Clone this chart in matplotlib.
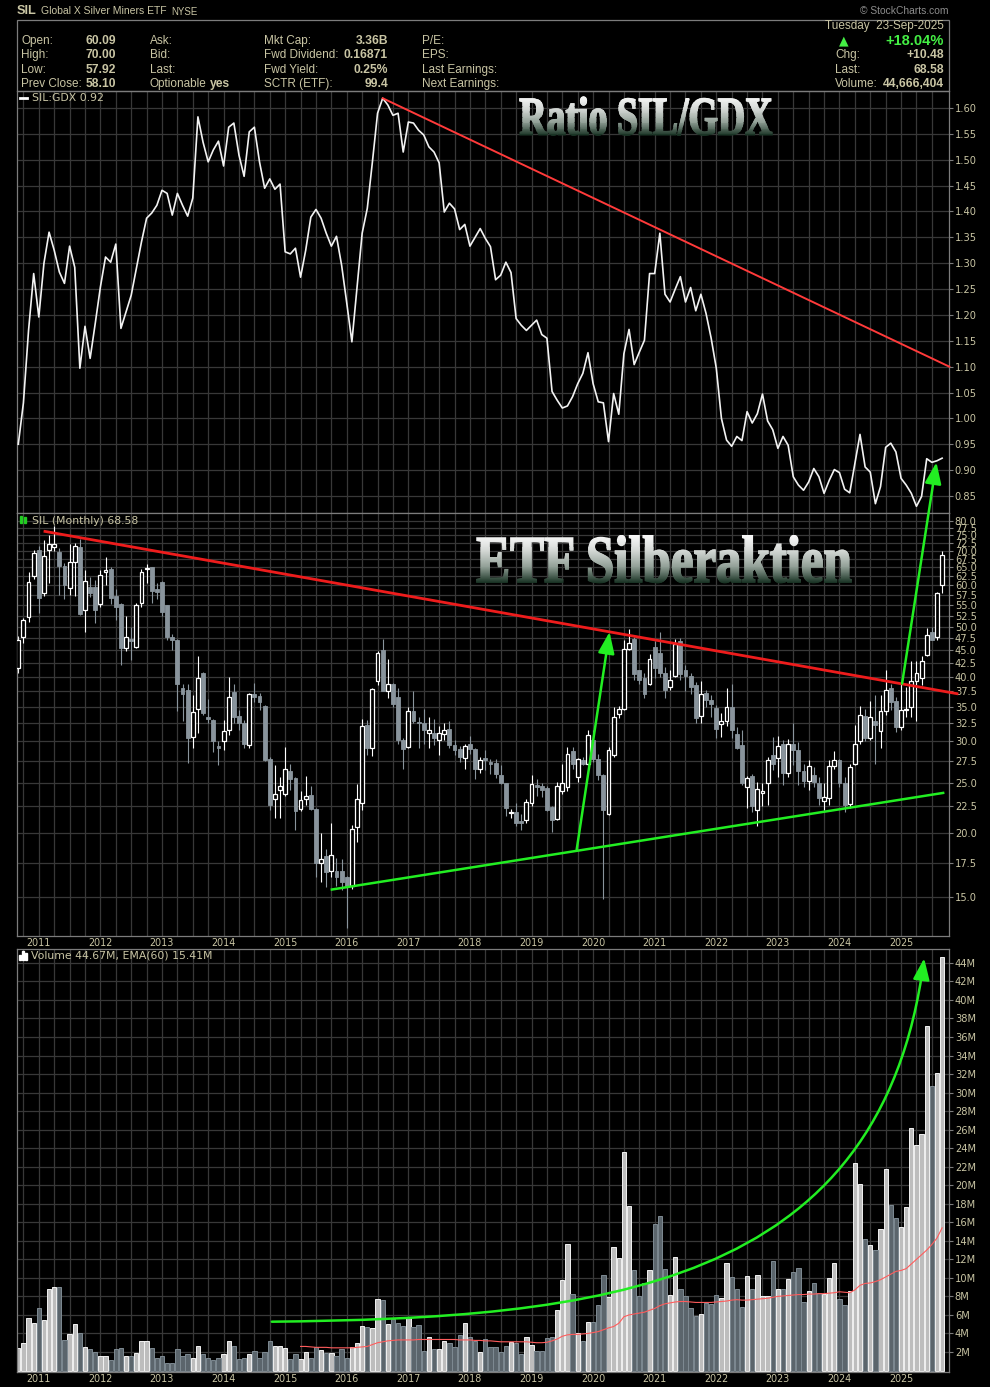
import numpy as np
import pandas as pd
import matplotlib
matplotlib.use('Agg')
import matplotlib.pyplot as plt
from matplotlib.patches import PathPatch, Rectangle, FancyArrowPatch, ConnectionPatch, ArrowStyle
from matplotlib.path import Path
from matplotlib.textpath import TextPath
from matplotlib.font_manager import FontProperties
from matplotlib.transforms import Affine2D
from matplotlib.colors import LinearSegmentedColormap
from matplotlib.ticker import FixedLocator, NullLocator, FuncFormatter

# ---- data (monthly, Sep 2010 .. Sep 2025) ----
months = pd.date_range('2010-09-01', periods=181, freq='MS')

sil_open = [41.5, 47.8, 52.1, 62.7, 70.4, 58.0, 70.2, 71.1, 69.6, 65.4,
            59.4, 66.7, 71.3, 53.8, 59.5, 59.5, 55.3, 63.7, 64.5, 57.3,
            55.2, 45.4, 47.3, 45.7, 55.6, 64.5, 65.0, 59.1, 61.0, 55.1,
            47.8, 47.1, 38.0, 37.7, 30.6, 34.6, 40.6, 33.4, 33.0, 29.4,
            30.0, 31.5, 37.4, 33.6, 32.5, 29.5, 37.1, 36.8, 35.2, 27.8,
            23.2, 24.2, 23.8, 26.3, 25.5, 22.2, 23.2, 23.7, 22.2, 17.5,
            18.0, 16.9, 16.9, 16.9, 16.4, 15.8, 20.5, 22.8, 32.3, 29.2,
            39.3, 45.1, 37.6, 38.8, 36.5, 30.2, 29.3, 34.3, 32.7, 32.5,
            31.1, 31.1, 30.2, 31.0, 31.7, 29.6, 29.0, 27.9, 29.7, 29.0,
            26.6, 27.9, 27.4, 27.3, 25.8, 24.9, 21.8, 21.9, 21.1, 21.2,
            22.8, 24.7, 24.6, 24.4, 22.4, 21.3, 24.1, 24.5, 28.8, 25.6,
            27.6, 27.1, 30.2, 27.8, 25.8, 21.7, 28.3, 33.9, 34.6, 45.2,
            47.4, 41.2, 39.7, 38.8, 45.6, 44.4, 40.6, 38.3, 40.2, 46.8,
            41.2, 40.2, 38.6, 33.6, 37.2, 36.1, 34.8, 32.4, 32.8, 34.9,
            31.0, 29.5, 24.5, 25.7, 22.1, 23.9, 24.9, 28.3, 27.9, 29.7,
            26.1, 29.7, 28.9, 26.3, 25.2, 25.9, 24.9, 23.0, 23.3, 26.9,
            27.6, 24.9, 22.7, 27.2, 30.1, 33.6, 30.5, 32.8, 31.4, 34.4,
            38.1, 35.9, 32.0, 34.5, 35.0, 39.2, 39.7, 44.0, 48.9, 47.8,
            60.09]
sil_high = [47.9, 51.9, 63.8, 70.2, 71.5, 73.4, 75.1, 78.2, 70.9, 66.2,
            72.3, 72.6, 73.9, 64.3, 62.4, 61.5, 64.3, 68.0, 65.2, 59.0,
            55.5, 52.4, 49.8, 55.5, 64.7, 66.0, 65.2, 60.6, 61.2, 55.1,
            48.4, 47.2, 38.8, 38.8, 36.9, 43.9, 40.9, 36.3, 33.2, 30.1,
            33.0, 40.0, 38.8, 34.5, 33.0, 37.2, 38.9, 37.2, 35.3, 28.0,
            27.0, 25.6, 29.3, 27.2, 25.6, 24.1, 25.7, 24.6, 22.3, 20.0,
            18.6, 20.9, 17.9, 17.8, 16.5, 20.7, 24.8, 33.2, 33.0, 38.0,
            44.8, 47.4, 43.3, 38.9, 38.0, 30.5, 35.0, 37.5, 33.5, 34.7,
            33.4, 33.1, 32.2, 32.5, 32.8, 30.2, 29.4, 29.7, 30.7, 29.2,
            28.0, 28.9, 27.8, 27.8, 27.0, 25.0, 22.2, 22.8, 21.7, 23.2,
            25.8, 25.4, 25.0, 24.6, 22.5, 25.1, 27.2, 29.3, 29.3, 27.9,
            28.0, 31.5, 31.6, 28.4, 26.0, 29.3, 35.0, 35.1, 47.1, 49.4,
            47.8, 41.3, 40.6, 44.3, 46.8, 48.8, 41.8, 41.2, 47.4, 47.6,
            42.2, 40.6, 39.1, 39.2, 37.7, 36.9, 35.3, 34.0, 38.0, 38.8,
            32.0, 31.6, 25.7, 26.0, 25.1, 24.9, 28.0, 30.6, 30.8, 30.2,
            30.3, 32.5, 29.9, 27.2, 27.6, 26.8, 25.6, 24.9, 27.6, 28.8,
            27.8, 25.6, 27.2, 32.3, 35.2, 34.7, 35.9, 36.9, 36.9, 41.2,
            38.8, 36.6, 38.8, 38.3, 42.9, 42.9, 43.9, 49.7, 50.0, 58.4,
            70.00]
sil_low = [40.7, 46.5, 51.1, 61.8, 53.0, 57.3, 60.8, 70.0, 57.6, 56.4,
           57.6, 57.3, 52.6, 48.7, 56.9, 50.7, 54.6, 60.2, 55.2, 51.5,
           42.2, 44.9, 43.1, 45.4, 54.6, 60.8, 55.5, 56.4, 52.4, 47.1,
           45.1, 34.4, 32.9, 27.3, 29.1, 31.1, 33.7, 32.5, 28.6, 27.0,
           28.9, 30.9, 32.5, 31.5, 29.2, 29.1, 35.8, 34.5, 27.5, 22.1,
           21.4, 21.4, 23.5, 24.2, 20.2, 22.0, 22.6, 22.1, 16.4, 16.1,
           15.7, 16.4, 15.8, 15.5, 13.1, 15.6, 19.2, 22.1, 28.3, 28.1,
           38.6, 37.5, 36.4, 35.0, 29.7, 26.6, 29.2, 32.5, 29.2, 29.7,
           29.1, 29.5, 28.3, 30.2, 29.2, 28.3, 27.4, 26.5, 28.4, 25.4,
           26.1, 26.4, 26.0, 25.5, 24.8, 21.5, 21.4, 20.6, 20.2, 20.9,
           22.5, 23.5, 23.4, 22.0, 20.1, 21.2, 23.8, 24.1, 26.6, 25.1,
           27.0, 27.0, 27.4, 25.3, 14.9, 21.6, 28.0, 33.3, 34.5, 45.1,
           39.4, 38.8, 36.4, 38.6, 39.7, 40.0, 36.4, 37.7, 40.0, 39.4,
           37.5, 37.1, 32.5, 32.5, 35.0, 33.5, 30.4, 30.6, 32.2, 30.4,
           29.0, 24.7, 22.3, 21.9, 20.6, 22.5, 22.6, 26.4, 25.6, 24.7,
           25.6, 27.0, 24.7, 24.5, 24.2, 24.5, 22.6, 22.1, 22.6, 26.6,
           24.5, 21.9, 22.3, 27.0, 29.7, 30.0, 30.2, 27.2, 29.2, 33.8,
           34.5, 31.3, 31.6, 33.5, 33.5, 32.9, 38.6, 43.8, 47.0, 47.0,
           57.92]
sil_close = [47.1, 51.5, 61.0, 69.2, 56.7, 68.5, 72.0, 72.3, 65.5, 60.2,
             66.7, 71.5, 52.8, 61.2, 58.0, 53.8, 62.8, 64.3, 56.7, 54.6,
             45.4, 47.7, 46.8, 55.0, 63.7, 64.7, 58.6, 58.4, 53.4, 47.8,
             47.0, 38.7, 37.1, 30.4, 34.2, 39.7, 34.0, 33.2, 30.1, 29.2,
             31.4, 36.5, 33.4, 32.6, 29.7, 37.0, 36.5, 35.7, 27.6, 22.6,
             23.8, 24.6, 26.6, 25.4, 22.0, 23.1, 23.5, 22.2, 17.5, 17.8,
             16.8, 18.1, 16.4, 16.1, 15.7, 20.3, 23.2, 32.1, 29.2, 37.8,
             44.4, 37.6, 38.8, 35.5, 30.2, 29.0, 34.4, 32.8, 32.5, 31.5,
             31.5, 30.5, 31.1, 31.6, 29.6, 28.9, 28.0, 29.4, 29.0, 26.6,
             27.6, 27.6, 27.2, 26.0, 24.9, 22.3, 21.9, 20.9, 20.9, 22.9,
             24.8, 24.5, 24.2, 22.1, 21.2, 24.6, 25.0, 28.4, 27.2, 27.7,
             27.1, 30.9, 27.8, 25.8, 22.1, 28.9, 33.4, 34.6, 45.2, 46.4,
             40.4, 39.5, 37.1, 43.3, 41.5, 40.6, 37.7, 39.5, 46.2, 40.4,
             40.2, 38.3, 33.3, 37.1, 36.1, 35.4, 31.7, 32.9, 35.0, 31.6,
             29.1, 24.9, 25.5, 22.5, 24.3, 24.1, 27.6, 27.2, 29.4, 26.1,
             29.7, 28.9, 26.3, 25.2, 26.9, 25.1, 23.3, 23.4, 26.9, 27.6,
             24.9, 22.6, 26.8, 29.7, 33.8, 30.4, 33.5, 32.3, 34.3, 37.7,
             35.8, 32.0, 34.5, 34.7, 39.3, 40.6, 42.9, 48.1, 47.1, 58.0,
             68.58]

# volume in millions
volume_m = [2.4, 3.0, 5.7, 5.1, 6.8, 5.5, 8.8, 9.05, 9.0, 3.3,
            3.9, 5.0, 4.0, 2.5, 2.3, 2.0, 1.6, 1.6, 1.1, 2.3,
            2.4, 1.6, 1.6, 1.9, 3.15, 3.15, 2.4, 1.4, 1.6, 0.85,
            0.85, 2.3, 1.6, 1.8, 1.4, 2.7, 1.8, 1.3, 1.1, 1.3,
            1.8, 3.15, 2.7, 1.2, 1.4, 1.8, 2.1, 1.4, 2.0, 3.15,
            2.6, 2.6, 2.4, 1.2, 1.8, 1.2, 2.0, 1.4, 2.5, 2.2,
            1.9, 1.9, 1.6, 2.3, 1.4, 2.5, 3.0, 4.8, 4.7, 4.6,
            7.7, 7.6, 5.0, 5.6, 5.1, 4.8, 5.7, 4.7, 4.9, 2.1,
            3.6, 2.3, 2.3, 3.15, 3.0, 2.5, 3.8, 5.1, 3.6, 3.15,
            2.0, 3.4, 2.5, 2.5,
            2.0, 2.6, 3.1, 3.0, 1.8, 3.6, 2.8, 2.1, 2.1, 3.5,
            3.6, 6.5, 9.8, 13.7, 8.3, 4.1, 3.2, 5.2, 5.2, 7.1,
            10.3, 7.9, 13.3, 12.1, 23.6, 17.8, 10.8, 8.0, 9.4, 10.9,
            15.8, 16.65, 11.0, 8.1, 12.2, 8.8, 8.0, 6.7, 5.9, 6.1,
            7.3, 7.2, 8.1, 7.8, 11.6, 10.1, 8.8, 6.9, 10.2, 8.8,
            10.3, 8.0, 8.0, 11.8, 8.8, 8.8, 9.9, 10.6, 11.1, 7.4,
            8.6, 9.4, 8.4, 8.3, 10.0, 11.6, 7.7, 7.1, 8.6, 22.4,
            20.1, 14.2, 13.5, 13.0, 15.3, 21.8, 17.9, 16.5, 15.5, 17.6,
            26.2, 24.3, 25.5, 37.2, 30.7, 32.1, 44.67]

# EMA(60) of volume, shown from month index 55 onwards
ema_first = 55
vol_ema60 = [2.6, 2.6, 2.55, 2.5, 2.5, 2.5, 2.45, 2.45, 2.45, 2.45,
             2.45, 2.5, 2.55, 2.6, 2.8, 3.0, 3.1, 3.2, 3.25, 3.3,
             3.3, 3.3, 3.3, 3.35, 3.35, 3.35, 3.35, 3.35, 3.35, 3.35,
             3.35, 3.3, 3.3, 3.3, 3.25, 3.25, 3.2, 3.2, 3.15,
             3.1, 3.1, 3.1, 3.1, 3.1, 3.1, 3.05, 3.0, 3.0, 3.05,
             3.2, 3.4, 3.7, 3.85, 3.9, 3.9, 3.95, 4.0, 4.1, 4.2,
             4.4, 4.6, 4.75, 5.1, 5.8, 6.0, 6.1, 6.2, 6.3, 6.5,
             6.7, 7.0, 7.2, 7.3, 7.4, 7.45, 7.45, 7.4, 7.35, 7.35,
             7.35, 7.35, 7.4, 7.45, 7.5, 7.6, 7.65, 7.6, 7.6, 7.65,
             7.7, 7.75, 7.8, 7.9, 8.0, 8.05, 8.1, 8.15, 8.2, 8.2,
             8.25, 8.25, 8.3, 8.3, 8.35, 8.4, 8.5, 8.45, 8.4, 8.7,
             9.2, 9.4, 9.45, 9.6, 9.8, 10.1, 10.4, 10.7, 10.8, 11.0,
             11.5, 12.0, 12.5, 13.0, 13.6, 14.3, 15.4]

# SIL:GDX ratio
ratio = [0.95, 1.03, 1.17, 1.28, 1.196, 1.30, 1.36, 1.325, 1.283, 1.261,
         1.333, 1.292, 1.097, 1.178, 1.116, 1.184, 1.254, 1.312, 1.302, 1.337,
         1.174, 1.206, 1.238, 1.290, 1.341, 1.387, 1.397, 1.412, 1.441, 1.435,
         1.393, 1.435, 1.412, 1.391, 1.426, 1.583, 1.534, 1.496, 1.519, 1.536,
         1.488, 1.563, 1.571, 1.509, 1.468, 1.554, 1.563, 1.496, 1.445, 1.463,
         1.443, 1.453, 1.322, 1.318, 1.329, 1.273, 1.325, 1.389, 1.404, 1.387,
         1.358, 1.333, 1.352, 1.296, 1.223, 1.148, 1.254, 1.358, 1.406, 1.496,
         1.590, 1.619, 1.606, 1.586, 1.590, 1.515, 1.573, 1.571, 1.557, 1.548,
         1.525, 1.515, 1.494, 1.399, 1.416,
         1.405, 1.365, 1.375, 1.333, 1.35, 1.367, 1.348, 1.332, 1.268, 1.277,
         1.302, 1.282, 1.193, 1.18, 1.17, 1.18, 1.19, 1.162, 1.155, 1.052,
         1.035, 1.02, 1.024, 1.042, 1.067, 1.087, 1.127, 1.067, 1.032, 1.03,
         0.955, 1.048, 1.008, 1.125, 1.172, 1.104, 1.128, 1.151, 1.28, 1.28,
         1.358, 1.24, 1.225, 1.25, 1.274, 1.225, 1.253, 1.208, 1.24, 1.203,
         1.155, 1.097, 1.0, 0.958, 0.946, 0.965, 0.957, 1.013, 0.991, 1.009,
         1.047, 0.995, 0.978, 0.942, 0.965, 0.948, 0.887, 0.871, 0.861, 0.877,
         0.903, 0.887, 0.855, 0.88, 0.901, 0.895, 0.863, 0.856, 0.912, 0.969,
         0.906, 0.896, 0.835, 0.868, 0.944, 0.952, 0.935, 0.884, 0.871, 0.855,
         0.83, 0.849, 0.922, 0.915, 0.918, 0.923]

# hand drawn trend lines: (month index, value)
ratio_resist = ([71, 181.4], [1.619, 1.10])
sil_resist = ([5.2, 182.9], [76.3, 37.1])
sil_support = ([61.1, 180.2], [15.54, 23.87])
arrow_2020 = ((108.8, 18.56), (115.2, 48.8))
arrow_2025 = ((172.2, 38.8), (178.9, 0.915))
vol_curve = [(49.4, 5.27), (113.4, 5.67), (168.0, 8.7), (176.5, 44.5)]

price_ticks = np.arange(15, 80.1, 2.5)
ratio_ticks = np.arange(0.85, 1.601, 0.05)
vol_ticks = np.arange(2, 45, 2)

# ---- layout ----
W, H = 990, 1387
BG = 'black'
GRID = '#383838'
SPINE = '#7c7c7c'
TXT = '#c9c5a4'
GREEN = '#22ee22'
CANDLE_GRAY = '#89949c'
HEAD_FONT = 'Liberation Sans'

fig = plt.figure(figsize=(W / 100, H / 100), dpi=100, facecolor=BG)


def px_axes(left, top, right, bottom):
    return fig.add_axes([left / W, 1 - bottom / H, (right - left) / W, (bottom - top) / H])


ax_r = px_axes(17, 91, 949.3, 513)
ax_p = px_axes(17, 513, 949.3, 936)
ax_v = px_axes(17, 949, 949.3, 1372)

x = np.arange(len(months))
jan = np.where(months.month == 1)[0]
quarters = np.where(months.month % 3 == 1)[0]

for ax in (ax_r, ax_p, ax_v):
    ax.set_facecolor(BG)
    ax.set_xlim(-0.25, 181.4)
    ax.set_xticks(quarters, minor=True)
    ax.set_xticks(jan)
    ax.set_xticklabels([str(y) for y in months.year[jan]])
    ax.grid(True, which='both', color=GRID, lw=0.9)
    ax.set_axisbelow(True)
    for s in ax.spines.values():
        s.set_color(SPINE)
        s.set_linewidth(0.9)
    ax.tick_params(axis='x', which='both', length=0, pad=1.8, labelsize=6.9, labelcolor=TXT)
    ax.tick_params(axis='y', which='both', left=False, right=True, labelleft=False,
                   labelright=True, direction='out', length=3, color=SPINE,
                   labelsize=7.1, labelcolor=TXT, pad=1)

ax_r.tick_params(axis='x', labelbottom=False)

# ratio panel
ax_r.set_ylim(0.817, 1.633)
ax_r.set_yticks(ratio_ticks)
ax_r.yaxis.set_major_formatter(FuncFormatter(lambda v, p: '%.2f' % v))
ax_r.plot(x[:len(ratio)], ratio, color='#f2f2f2', lw=1.2, zorder=3)
ax_r.plot(*ratio_resist, color='#ff3a3a', lw=1.4, zorder=3, clip_on=False)

# price panel (log)
ax_p.set_yscale('log')
ax_p.set_ylim(12.64, 82.8)
ax_p.yaxis.set_major_locator(FixedLocator(price_ticks))
ax_p.yaxis.set_minor_locator(NullLocator())
ax_p.yaxis.set_major_formatter(FuncFormatter(lambda v, p: '%.1f' % v))

o = np.array(sil_open)
h = np.array(sil_high)
l = np.array(sil_low)
c = np.array(sil_close)
up = c >= o
wick_col = np.where(up, 'white', CANDLE_GRAY)
ax_p.vlines(x, l, h, colors=wick_col, lw=0.8, zorder=2)
body_lo = np.minimum(o, c)
body_h = np.maximum(np.abs(c - o), body_lo * 0.006)
ax_p.bar(x[up], body_h[up], bottom=body_lo[up], width=0.75, facecolor='black',
         edgecolor='white', lw=0.9, zorder=3)
ax_p.bar(x[~up], body_h[~up], bottom=body_lo[~up], width=0.75, facecolor=CANDLE_GRAY,
         edgecolor=CANDLE_GRAY, lw=0.6, zorder=3)

ax_p.plot(*sil_resist, color='#ee1c1c', lw=2.0, zorder=4, clip_on=False)
ax_p.plot(*sil_support, color=GREEN, lw=1.8, zorder=4)
head = ArrowStyle('-|>', head_length=1.3, head_width=0.5)
ax_p.add_patch(FancyArrowPatch(arrow_2020[0], arrow_2020[1], arrowstyle=head,
                               mutation_scale=10, color=GREEN, lw=1.8, zorder=5,
                               shrinkA=0, shrinkB=0))
fig.add_artist(ConnectionPatch(xyA=arrow_2025[0], coordsA=ax_p.transData,
                               xyB=arrow_2025[1], coordsB=ax_r.transData,
                               arrowstyle=head, mutation_scale=10, color=GREEN,
                               lw=1.8, shrinkA=0, shrinkB=0, zorder=6))

# volume panel
ax_v.set_ylim(-0.16, 45.5)
ax_v.set_yticks(vol_ticks)
ax_v.yaxis.set_major_formatter(FuncFormatter(lambda v, p: '%dM' % v))
vol = np.array(volume_m)
ax_v.bar(x[up], vol[up], width=0.84, facecolor='#bdbdbd', edgecolor='#f2f2f2', lw=0.7, zorder=2)
ax_v.bar(x[~up], vol[~up], width=0.84, facecolor='#5b656c', edgecolor='#7e8a92', lw=0.7, zorder=2)
ax_v.plot(x[ema_first:ema_first + len(vol_ema60)], vol_ema60, color='#ff5c5c', lw=0.8, zorder=3)
curve = Path(vol_curve, [Path.MOVETO, Path.CURVE4, Path.CURVE4, Path.CURVE4])
ax_v.add_patch(FancyArrowPatch(path=curve, arrowstyle=head, mutation_scale=10,
                               color=GREEN, lw=1.8, zorder=4))

# ---- overlay in pixel coordinates for header / labels ----
ov = fig.add_axes([0, 0, 1, 1])
ov.set_xlim(0, W)
ov.set_ylim(H, 0)
ov.axis('off')
ov.set_zorder(10)
ov.patch.set_visible(False)

silver = LinearSegmentedColormap.from_list('silver', ['#f8f8f8', '#d4d8d5', '#93a198', '#1a3425'])


def gradient_text(s, left, right, top, base, bands=60):
    fp = FontProperties(family='Liberation Serif', weight='bold')
    tp = TextPath((0, 0), s, size=100, prop=fp)
    cap = TextPath((0, 0), 'E', size=100, prop=fp).get_extents()
    ext = tp.get_extents()
    sx = (right - left) / ext.width
    sy = (base - top) / cap.height
    tr = Affine2D().translate(-ext.x0, 0).scale(sx, -sy).translate(left, base) + ov.transData
    y0, y1 = top - 3, base + 12
    edges = np.linspace(y0, y1, bands + 1)
    for k in range(bands):
        col = silver(min(1.0, k / (bands - 1) * (y1 - y0) / (base - y0 + 1)))
        clip = Rectangle((left - 6, edges[k] - 0.3), right - left + 12,
                         edges[k + 1] - edges[k] + 0.6, transform=ov.transData)
        p = PathPatch(tp, transform=tr, facecolor=col, edgecolor=col, lw=1.1)
        ov.add_patch(p)
        p.set_clip_path(clip)


gradient_text('Ratio SIL/GDX', 520, 772, 99, 134.5)
gradient_text('ETF Silberaktien', 477, 851, 538, 582)

# header
ov.text(17, 11, 'SIL', color=TXT, fontsize=9.2, fontweight='bold', va='center', family=HEAD_FONT)
ov.text(41, 11, 'Global X Silver Miners ETF', color=TXT, fontsize=7.5, va='center', family=HEAD_FONT)
ov.text(171, 12, 'NYSE', color=TXT, fontsize=7, va='center', family=HEAD_FONT)
ov.text(949, 11, '\u00a9 StockCharts.com', color='#8c8c8c', fontsize=7.4, va='center',
        ha='right', family=HEAD_FONT)
ov.add_patch(Rectangle((17, 20), 932.3, 71, facecolor='none', edgecolor=SPINE, lw=0.9))

rows = [41, 55, 70, 84]
col1 = ['Open:', 'High:', 'Low:', 'Prev Close:']
val1 = ['60.09', '70.00', '57.92', '58.10']
col2 = ['Ask:', 'Bid:', 'Last:', 'Optionable']
col3 = ['Mkt Cap:', 'Fwd Dividend:', 'Fwd Yield:', 'SCTR (ETF):']
val3 = ['3.36B', '0.16871', '0.25%', '99.4']
col4 = ['P/E:', 'EPS:', 'Last Earnings:', 'Next Earnings:']
lab = dict(color=TXT, fontsize=8.5, va='center', family=HEAD_FONT)
val = dict(color=TXT, fontsize=8.7, va='center', ha='right', fontweight='bold', family=HEAD_FONT)
for yy, a, av, b, cc, cv, d in zip(rows, col1, val1, col2, col3, val3, col4):
    ov.text(21, yy, a, **lab)
    ov.text(116, yy, av, **val)
    ov.text(150, yy, b, **lab)
    ov.text(264, yy, cc, **lab)
    ov.text(388, yy, cv, **val)
    ov.text(422, yy, d, **lab)
ov.text(230, 84, 'yes', **val)

ov.text(944, 26, 'Tuesday  23-Sep-2025', **lab, ha='right')
ov.text(844, 41, '\u25b2', color='#44ee44', fontsize=9, va='center', ha='center')
ov.text(944, 41, '+18.04%', color='#44ee44', fontsize=10.5, va='center', ha='right',
        fontweight='bold', family=HEAD_FONT)
ov.text(835, 55, 'Chg:', **lab)
ov.text(944, 55, '+10.48', **val)
ov.text(835, 70, 'Last:', **lab)
ov.text(944, 70, '68.58', **val)
ov.text(835, 84, 'Volume:', **lab)
ov.text(944, 84, '44,666,404', **val)

# panel legends
leg = dict(color=TXT, fontsize=7.8, va='center')
ov.plot([20, 27], [98, 98], color='white', lw=2)
ov.text(32, 98, 'SIL:GDX 0.92', **leg)
ov.add_patch(Rectangle((20, 516), 2, 7, color='#22cc22'))
ov.add_patch(Rectangle((24, 517), 2, 6, color='#22cc22'))
ov.text(32, 520.5, 'SIL (Monthly) 68.58', **leg)
for bx, bh in zip([19, 22, 25], [5, 9, 7]):
    ov.add_patch(Rectangle((bx, 960 - bh), 2, bh, color='white'))
ov.text(31, 956, 'Volume 44.67M, EMA(60) 15.41M', **leg)

fig.savefig('out.png', dpi=100, facecolor=BG)
